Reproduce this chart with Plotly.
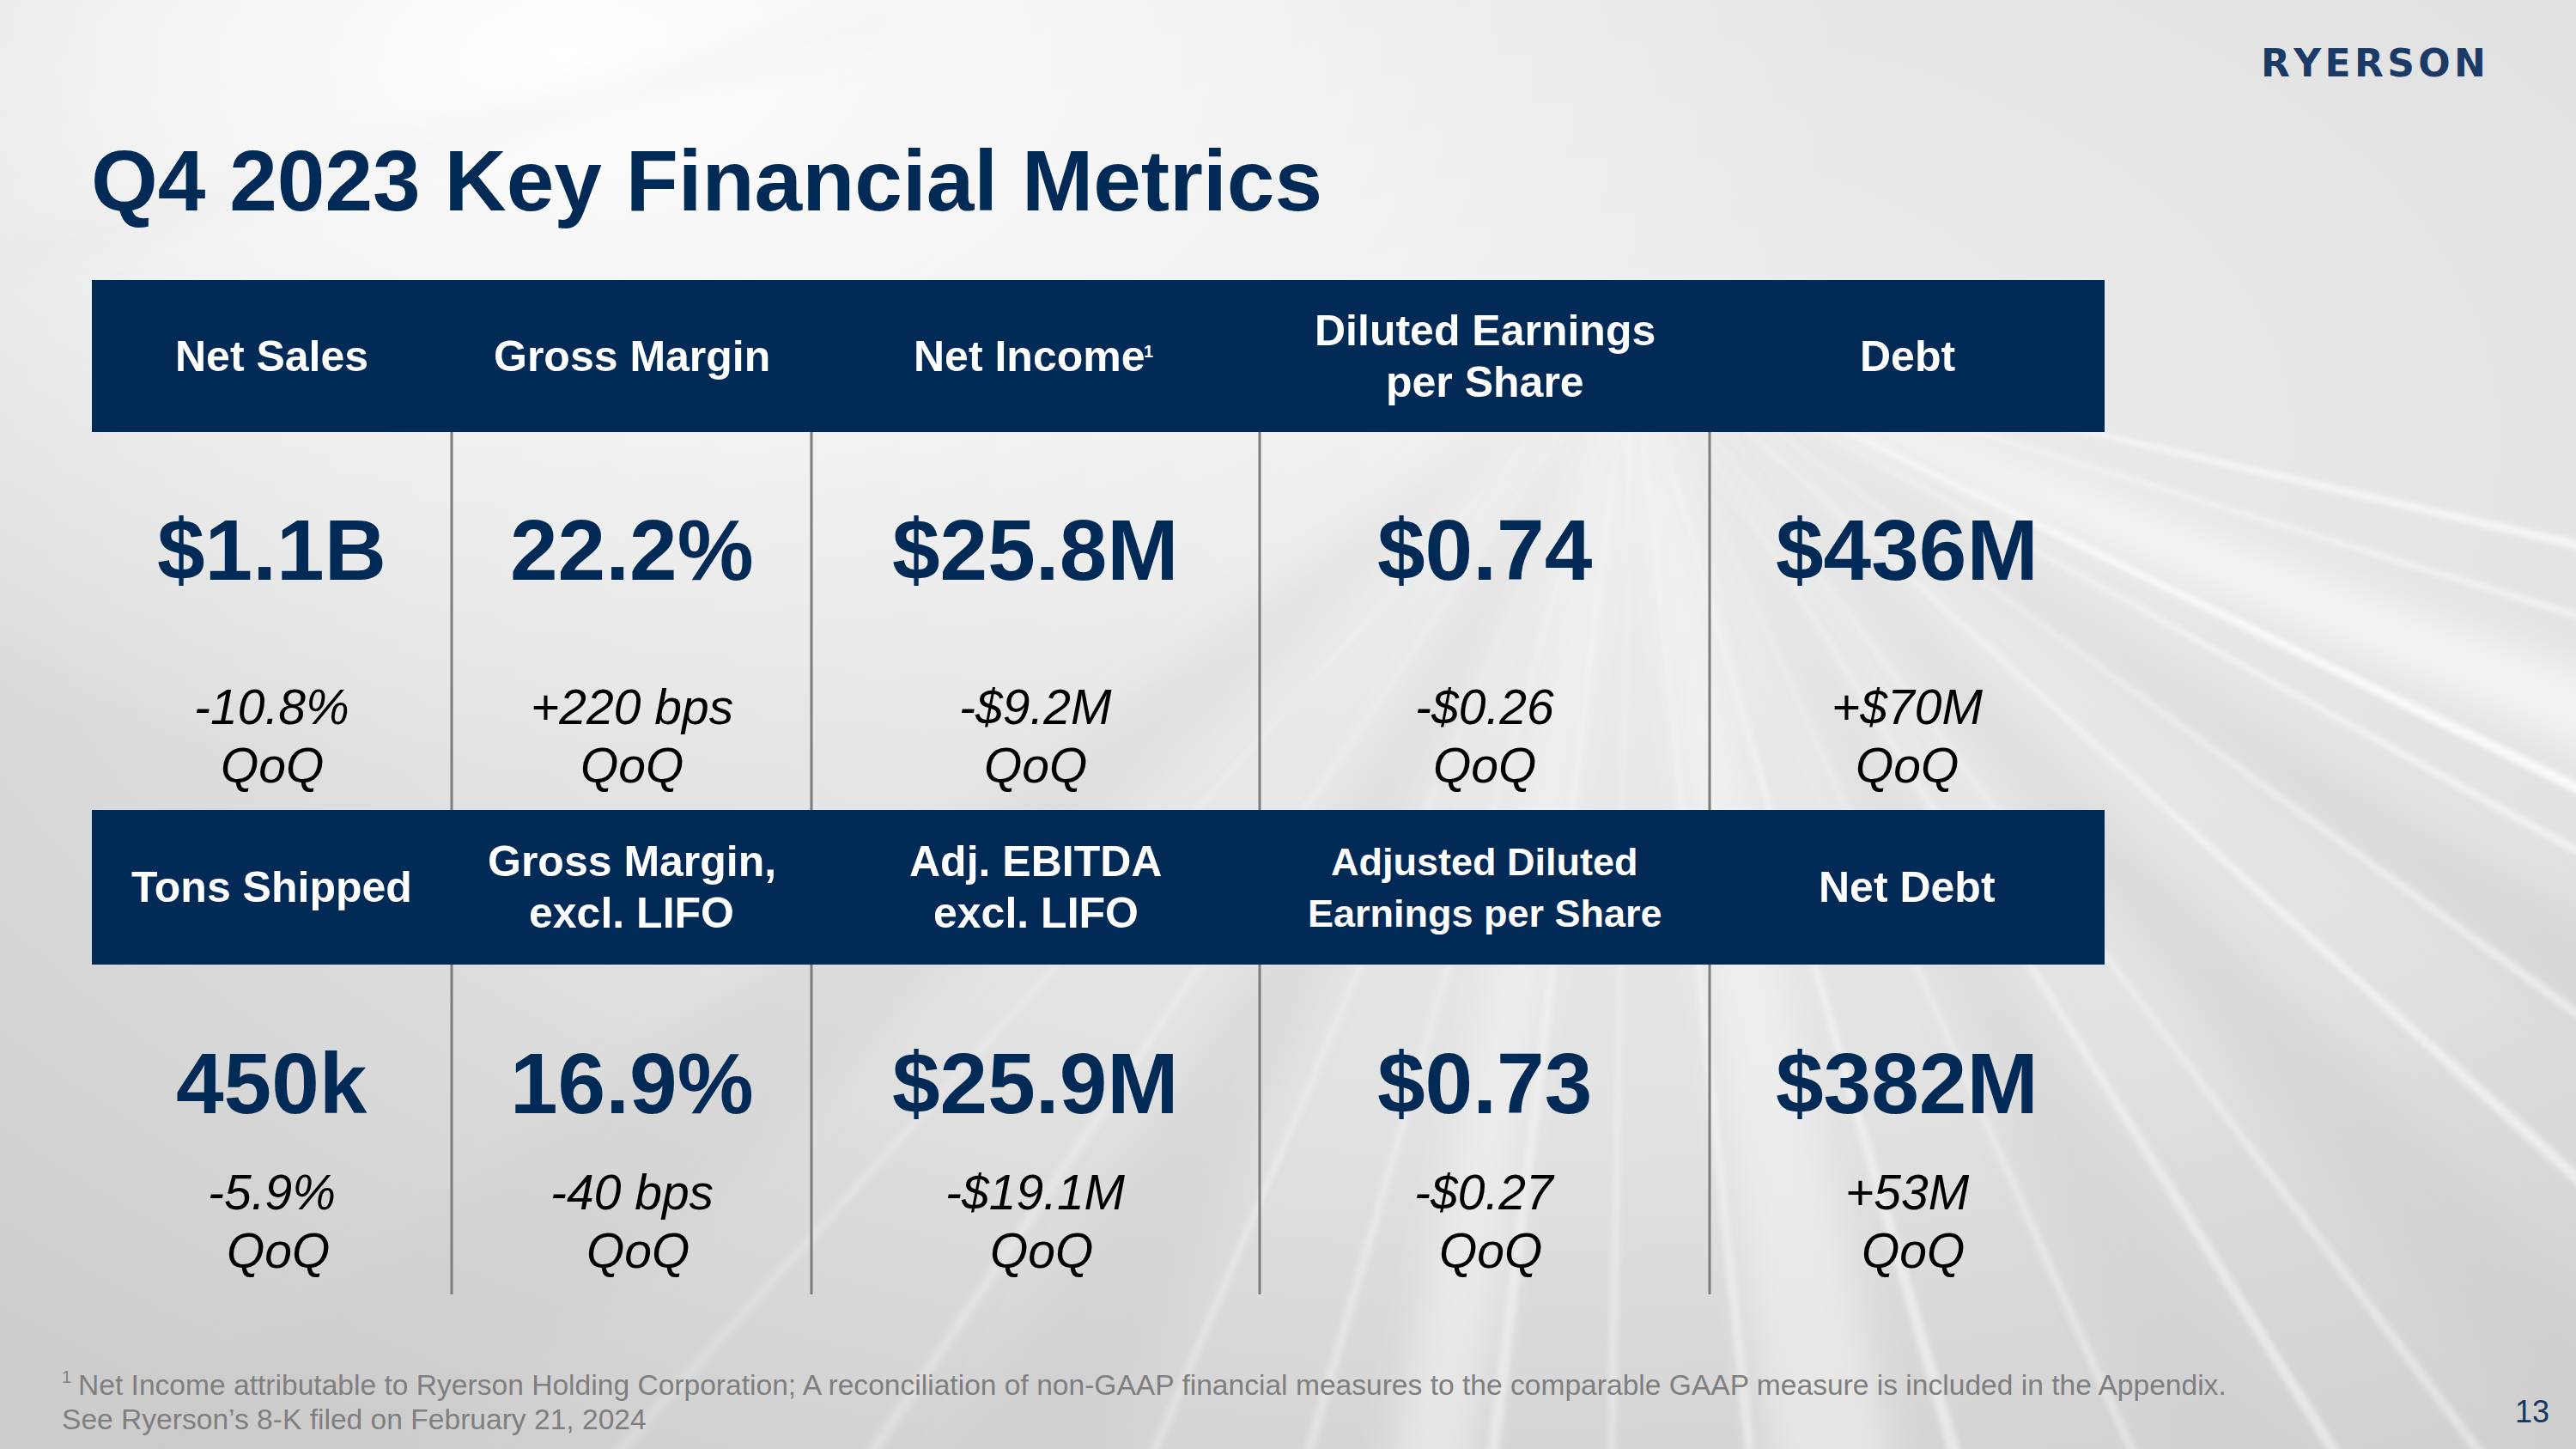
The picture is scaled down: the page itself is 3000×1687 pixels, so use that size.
import base64
import math
import plotly.graph_objects as go

W, H = 3000, 1687

# ---------------- data ----------------
title_text = "Q4 2023 Key Financial Metrics"
top_headers = ["Net Sales", "Gross Margin", "Net Income", "Diluted Earnings\nper Share", "Debt"]
top_values = ["$1.1B", "22.2%", "$25.8M", "$0.74", "$436M"]
top_changes = ["-10.8%", "+220 bps", "-$9.2M", "-$0.26", "+$70M"]
bottom_headers = ["Tons Shipped", "Gross Margin,\nexcl. LIFO", "Adj. EBITDA\nexcl. LIFO",
                  "Adjusted Diluted\nEarnings per Share", "Net Debt"]
bottom_values = ["450k", "16.9%", "$25.9M", "$0.73", "$382M"]
bottom_changes = ["-5.9%", "-40 bps", "-$19.1M", "-$0.27", "+53M"]
change_period = "QoQ"
footnote_mark = "1"
footnote_lines = [
    "Net Income attributable to Ryerson Holding Corporation; A reconciliation of non-GAAP "
    "financial measures to the comparable GAAP measure is included in the Appendix.",
    "See Ryerson\u2019s 8-K filed on February 21, 2024",
]
page_number = "13"
logo_text = "RYERSON"

# ---------------- style / layout ----------------
NAVY = "#022A56"
FONT = "Liberation Sans, Arial, sans-serif"
col_edges = [107, 526, 945, 1467, 1991, 2451]
col_centers = [(a + b) / 2 for a, b in zip(col_edges[:-1], col_edges[1:])]
hdr1 = (326, 503)
hdr2 = (943, 1123)
top_header_sizes = [50, 50, 50, 50, 50]
bottom_header_sizes = [50, 50, 50, 45, 50]
row1_value_y, row1_change_y = 640, (823, 891)
row2_value_y, row2_change_y = 1261, (1388, 1456)
div_end = 1507


def bg_svg():
    vx, vy = 1900, 380
    p = [f'<svg xmlns="http://www.w3.org/2000/svg" width="{W}" height="{H}" viewBox="0 0 {W} {H}">',
         '<defs>',
         '<radialGradient id="g1" cx="0.6" cy="0.3" r="0.85">'
         '<stop offset="0" stop-color="#EFEFEF"/><stop offset="0.55" stop-color="#E2E2E2"/>'
         '<stop offset="1" stop-color="#CDCDCD"/></radialGradient>',
         '<radialGradient id="g2" cx="0.22" cy="0.04" r="0.5">'
         '<stop offset="0" stop-color="#FFFFFF" stop-opacity="1"/>'
         '<stop offset="1" stop-color="#FFFFFF" stop-opacity="0"/></radialGradient>',
         '<filter id="b1" x="-0.2" y="-0.2" width="1.4" height="1.4"><feGaussianBlur stdDeviation="3"/></filter>',
         '<filter id="b2" x="-0.2" y="-0.2" width="1.4" height="1.4"><feGaussianBlur stdDeviation="22"/></filter>',
         '</defs>',
         f'<rect width="{W}" height="{H}" fill="url(#g1)"/>',
         f'<rect width="{W}" height="{H}" fill="url(#g2)"/>']
    L = 4200

    def wedge(a, hw, color, op, filt):
        a1, a2 = math.radians(a - hw), math.radians(a + hw)
        pts = f"{vx},{vy} {vx + L * math.cos(a1):.0f},{vy + L * math.sin(a1):.0f} " \
              f"{vx + L * math.cos(a2):.0f},{vy + L * math.sin(a2):.0f}"
        return f'<polygon points="{pts}" fill="{color}" fill-opacity="{op}" filter="url(#{filt})"/>'

    # soft bands
    for a, hw, c, op in [(22, 2.2, "#FFFFFF", 0.55), (48, 2.5, "#C8C8C8", 0.3), (80, 3.0, "#FFFFFF", 0.4),
                         (100, 2.0, "#FFFFFF", 0.4), (118, 3.0, "#C4C4C4", 0.25), (140, 3.5, "#C8C8C8", 0.25),
                         (34, 2.0, "#C6C6C6", 0.3), (62, 2.5, "#C8C8C8", 0.25)]:
        p.append(wedge(a, hw, c, op, "b2"))
    # thin streaks
    for a, hw, op in [(13, 0.25, 0.7), (17, 0.2, 0.55), (26, 0.3, 0.8), (29, 0.2, 0.6), (36, 0.2, 0.5),
                      (42, 0.25, 0.55), (53, 0.2, 0.4), (58, 0.25, 0.45), (66, 0.2, 0.35), (74, 0.3, 0.45),
                      (84, 0.25, 0.4), (91, 0.2, 0.35), (97, 0.3, 0.4), (106, 0.25, 0.3), (113, 0.2, 0.3),
                      (124, 0.25, 0.25), (132, 0.2, 0.2)]:
        p.append(wedge(a, hw, "#FFFFFF", op, "b1"))
    # faint diagonal fold at top-left
    p.append('<line x1="0" y1="300" x2="1050" y2="20" stroke="#D8D8D8" stroke-width="10" '
             'stroke-opacity="0.6" filter="url(#b2)"/>')
    p.append('</svg>')
    return "data:image/svg+xml;base64," + base64.b64encode("".join(p).encode()).decode()


fig = go.Figure()

shapes = []
for (y0, y1) in (hdr1, hdr2):
    shapes.append(dict(type="rect", xref="x", yref="y", x0=col_edges[0], x1=col_edges[-1],
                       y0=y0, y1=y1, fillcolor=NAVY, line=dict(width=0), layer="above"))
for x in col_edges[1:-1]:
    for (y0, y1) in ((hdr1[1], hdr2[0]), (hdr2[1], div_end)):
        shapes.append(dict(type="line", xref="x", yref="y", x0=x, x1=x, y0=y0, y1=y1,
                           line=dict(color="#7D7D7D", width=3), layer="above"))

ann = []


def text(x, y, s, size, color, weight="normal", style="normal", xanchor="center", family=FONT):
    ann.append(dict(x=x, y=y, xref="x", yref="y", text=s, showarrow=False, xanchor=xanchor,
                    yanchor="middle", font=dict(family=family, size=size, color=color,
                                                weight=weight, style=style)))


def header(cx, cy, label, size):
    lines = label.split("\n")
    if len(lines) == 1:
        text(cx, cy, lines[0], size, "white", "bold")
    else:
        text(cx, cy - 30, lines[0], size, "white", "bold")
        text(cx, cy + 30, lines[1], size, "white", "bold")


# title
text(104, 210, title_text, 100, NAVY, "bold", xanchor="left")
# logo
text(2764, 73, "\u200a".join(logo_text), 44, "#1B3A66", "bold", family="DejaVu Sans, Verdana")

h1c = (hdr1[0] + hdr1[1]) / 2
h2c = (hdr2[0] + hdr2[1]) / 2
for i, cx in enumerate(col_centers):
    if i == 2:
        text(cx - 7, h1c, top_headers[i], top_header_sizes[i], "white", "bold")
        text(cx + 131, h1c - 6, "1", 20, "white", "bold")
    else:
        header(cx, h1c, top_headers[i], top_header_sizes[i])
    header(cx, h2c, bottom_headers[i], bottom_header_sizes[i])
    text(cx, row1_value_y, top_values[i], 100, NAVY, "bold")
    text(cx, row2_value_y, bottom_values[i], 100, NAVY, "bold")
    text(cx, row1_change_y[0], top_changes[i], 57, "black", style="italic")
    text(cx, row1_change_y[1], change_period, 57, "black", style="italic")
    text(cx, row2_change_y[0], bottom_changes[i], 57, "black", style="italic")
    text(cx + 7, row2_change_y[1], change_period, 57, "black", style="italic")

# footnote
text(70, 1603, footnote_mark, 20, "#7F7F7F", xanchor="left")
text(89, 1612, footnote_lines[0], 33.6, "#7F7F7F", xanchor="left")
text(70, 1652, footnote_lines[1], 33.6, "#7F7F7F", xanchor="left")
# page number
text(2949, 1643, page_number, 36, "#17365D")

fig.update_layout(
    width=W, height=H, margin=dict(l=0, r=0, t=0, b=0),
    paper_bgcolor="#E4E4E4", plot_bgcolor="rgba(0,0,0,0)",
    xaxis=dict(range=[0, W], visible=False, fixedrange=True),
    yaxis=dict(range=[H, 0], visible=False, fixedrange=True),
    shapes=shapes, annotations=ann, showlegend=False,
    images=[dict(source=bg_svg(), xref="paper", yref="paper", x=0, y=1, sizex=1, sizey=1,
                 xanchor="left", yanchor="top", sizing="stretch", layer="below")],
)

fig.write_html("out.html", config={"displayModeBar": False},
               post_script="document.body.style.margin='0';document.body.style.padding='0';")
